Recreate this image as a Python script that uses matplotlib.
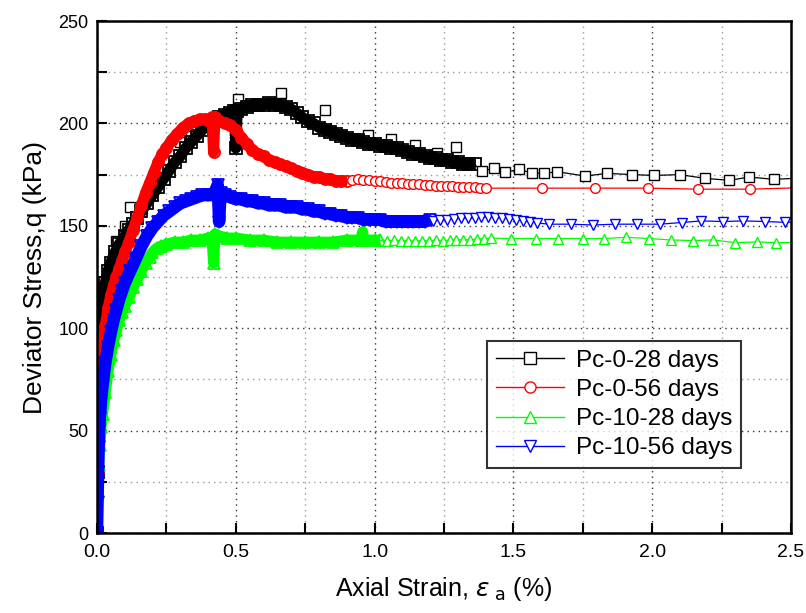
import matplotlib
matplotlib.use("Agg")
import matplotlib.pyplot as plt
from matplotlib.ticker import MultipleLocator

plt.rcParams['font.family'] = ['Liberation Sans', 'DejaVu Sans']
plt.rcParams['mathtext.fontset'] = 'dejavusans'

labels = ['Pc-0-28 days', 'Pc-0-56 days', 'Pc-10-28 days', 'Pc-10-56 days']
colors = ['#000000', '#ff0000', '#00ff00', '#0000ff']
markers = ['s', 'o', '^', 'v']

# Pc-0-28 days
black_dense_x = [0.000, 0.002, 0.004, 0.006, 0.008, 0.010, 0.013, 0.016, 0.020, 0.025,
                 0.030, 0.040, 0.050, 0.065, 0.080, 0.100, 0.115, 0.130, 0.145, 0.160,
                 0.180, 0.200, 0.220, 0.240, 0.260, 0.280, 0.300, 0.320, 0.340, 0.360,
                 0.380, 0.400, 0.420, 0.440, 0.460, 0.480, 0.495, 0.500, 0.505, 0.520,
                 0.540, 0.560, 0.580, 0.600, 0.620, 0.640, 0.660, 0.680, 0.700, 0.720,
                 0.740, 0.760, 0.780, 0.800, 0.820, 0.840, 0.860, 0.880, 0.900, 0.920,
                 0.940, 0.960, 0.980, 1.000, 1.020, 1.040, 1.060, 1.080, 1.100, 1.120,
                 1.140, 1.160, 1.180, 1.200, 1.220, 1.240, 1.260, 1.280, 1.300, 1.320,
                 1.340, 1.360]
black_dense_y = [0, 30, 55, 72, 85, 93, 102, 108, 113, 118,
                 122, 128, 132, 137, 141, 145, 148, 151, 154, 157,
                 161, 165, 169, 173, 177, 181, 184, 188, 191, 194,
                 197, 199, 201, 203, 204, 205, 206, 188, 206, 207,
                 208, 209, 209, 209, 210, 209, 209, 208, 207, 205,
                 203, 201, 200, 198, 197, 196, 195, 194, 193, 192,
                 192, 191, 190, 190, 189, 189, 188, 188, 187, 186,
                 185, 185, 184, 183, 183, 182, 182, 181, 181, 180,
                 180, 180]
black_out_x = [0.070, 0.100, 0.118, 0.298, 0.340, 0.507, 0.664, 0.820, 0.975, 1.060,
               1.144, 1.224, 1.292]
black_out_y = [142.6, 150.0, 159.0, 190.8, 194.0, 211.9, 214.7, 206.5, 194.4, 192.3,
               189.5, 185.5, 188.7]
black_sparse_x = [1.386, 1.430, 1.470, 1.520, 1.566, 1.611, 1.658, 1.759, 1.837, 1.928,
                  2.008, 2.099, 2.189, 2.278, 2.349, 2.439, 2.530]
black_sparse_y = [176.6, 178.2, 176.1, 177.6, 175.8, 175.6, 176.4, 174.3, 175.6, 175.0,
                  174.6, 175.0, 173.2, 172.2, 173.8, 172.7, 173.3]

# Pc-0-56 days
red_dense_x = [0.000, 0.003, 0.006, 0.010, 0.015, 0.020, 0.030, 0.040, 0.050, 0.060,
               0.070, 0.080, 0.090, 0.100, 0.115, 0.130, 0.145, 0.160, 0.175, 0.190,
               0.205, 0.220, 0.235, 0.250, 0.270, 0.290, 0.310, 0.330, 0.350, 0.370,
               0.390, 0.405, 0.415, 0.420, 0.425, 0.440, 0.460, 0.480, 0.500, 0.520,
               0.540, 0.560, 0.580, 0.600, 0.620, 0.640, 0.660, 0.680, 0.700, 0.720,
               0.740, 0.760, 0.780, 0.800, 0.820, 0.840, 0.860, 0.880, 0.900]
red_dense_y = [0, 30, 55, 68, 80, 89, 101, 110, 116, 121,
               125, 129, 133, 137, 142, 148, 154, 160, 166, 171,
               176, 181, 185, 188, 192, 195, 198, 200, 201, 202,
               202, 201, 203, 186, 203, 201, 200, 199, 197, 193,
               190, 187, 185, 184, 182, 181, 180, 179, 178, 177,
               176, 175, 174, 174, 173, 173, 172, 172, 172]
red_sparse_x = [0.92, 0.94, 0.96, 0.98, 1.00, 1.02, 1.04, 1.06, 1.08, 1.10,
                1.12, 1.14, 1.16, 1.18, 1.20, 1.22, 1.24, 1.26, 1.28, 1.30,
                1.32, 1.34, 1.36, 1.38, 1.40, 1.604, 1.794, 1.985, 2.164, 2.354,
                2.530]
red_sparse_y = [172.5, 172.8, 172.6, 172.2, 172.0, 171.8, 171.5, 171.0, 170.8, 170.9,
                170.6, 170.4, 170.2, 170.0, 169.8, 169.6, 169.4, 169.3, 169.2, 169.0,
                169.0, 168.8, 168.8, 168.6, 168.4, 168.4, 168.4, 168.4, 167.9, 167.9,
                168.6]

# Pc-10-28 days
green_dense_x = [0.000, 0.003, 0.006, 0.010, 0.015, 0.020, 0.030, 0.040, 0.050, 0.060,
                 0.070, 0.080, 0.090, 0.100, 0.115, 0.130, 0.145, 0.160, 0.175, 0.190,
                 0.200, 0.215, 0.230, 0.250, 0.280, 0.310, 0.340, 0.370, 0.400, 0.415,
                 0.420, 0.425, 0.440, 0.470, 0.500, 0.550, 0.600, 0.650, 0.700, 0.750,
                 0.800, 0.850, 0.900, 0.950, 0.957, 0.960, 1.000, 1.020]
green_dense_y = [0, 20, 33, 43, 52, 58, 69, 79, 87, 94,
                 99, 104, 108, 111, 115, 120, 124, 128, 132, 135,
                 137, 139, 140, 141, 142, 142, 143, 143, 144, 144,
                 132, 146, 145, 144, 144, 143, 143, 142, 142, 142,
                 142, 142, 143, 143, 147, 143, 143, 143]
green_sparse_x = [1.045, 1.070, 1.095, 1.120, 1.145, 1.170, 1.195, 1.220, 1.245, 1.270,
                  1.295, 1.320, 1.345, 1.370, 1.395, 1.420, 1.491, 1.581, 1.659, 1.749,
                  1.828, 1.907, 1.987, 2.066, 2.147, 2.219, 2.298, 2.376, 2.447, 2.530]
green_sparse_y = [142.8, 142.9, 142.7, 142.8, 142.6, 142.8, 142.7, 142.9, 142.8, 143.0,
                  143.1, 143.2, 143.3, 143.5, 143.8, 144.0, 143.8, 143.8, 143.8, 143.8,
                  143.8, 144.4, 143.8, 143.1, 142.8, 143.1, 141.8, 142.1, 141.8, 141.9]

# Pc-10-56 days
blue_dense_x = [0.000, 0.002, 0.004, 0.006, 0.008, 0.010, 0.015, 0.020, 0.030, 0.040,
                0.050, 0.060, 0.070, 0.080, 0.090, 0.100, 0.120, 0.140, 0.160, 0.180,
                0.200, 0.220, 0.240, 0.260, 0.280, 0.300, 0.320, 0.340, 0.360, 0.380,
                0.400, 0.420, 0.435, 0.440, 0.445, 0.460, 0.480, 0.500, 0.520, 0.540,
                0.560, 0.580, 0.600, 0.620, 0.640, 0.660, 0.680, 0.700, 0.720, 0.740,
                0.760, 0.780, 0.800, 0.820, 0.840, 0.860, 0.880, 0.900, 0.920, 0.940,
                0.960, 0.980, 1.000, 1.020, 1.040, 1.060, 1.080, 1.100, 1.120, 1.140,
                1.160, 1.180, 1.200]
blue_dense_y = [0, 15, 30, 42, 50, 56, 65, 72, 83, 91,
                98, 104, 109, 114, 118, 122, 128, 134, 140, 145,
                149, 152, 155, 157, 159, 161, 162, 163, 164, 165,
                165, 165, 170, 152, 166, 165, 164, 163, 163, 162,
                162, 161, 161, 160, 160, 160, 159, 159, 159, 158,
                158, 157, 157, 156, 156, 155, 155, 154, 154, 154,
                153, 153, 153, 153, 152, 152, 152, 152, 152, 152,
                152, 152, 153]
blue_sparse_x = [1.210, 1.235, 1.260, 1.285, 1.310, 1.335, 1.360, 1.385, 1.410, 1.435,
                 1.460, 1.485, 1.510, 1.535, 1.560, 1.585, 1.628, 1.706, 1.787, 1.867,
                 1.945, 2.027, 2.106, 2.177, 2.256, 2.327, 2.407, 2.477, 2.530]
blue_sparse_y = [152.5, 152.6, 153.0, 153.3, 153.6, 153.8, 154.0, 154.2, 154.2, 154.0,
                 153.8, 153.5, 153.0, 152.5, 152.0, 151.4, 150.8, 150.8, 150.4, 150.8,
                 150.8, 150.8, 151.6, 152.4, 152.1, 152.4, 152.1, 151.7, 151.8]

dense_x = [black_dense_x, red_dense_x, green_dense_x, blue_dense_x]
dense_y = [black_dense_y, red_dense_y, green_dense_y, blue_dense_y]
sparse_x = [black_sparse_x, red_sparse_x, green_sparse_x, blue_sparse_x]
sparse_y = [black_sparse_y, red_sparse_y, green_sparse_y, blue_sparse_y]
band_lw = [8, 8, 8, 9]

fig = plt.figure(figsize=(8.06, 6.13), dpi=100)
ax = fig.add_axes([0.1203, 0.1305, 0.8611, 0.8352])

for i in range(4):
    c = colors[i]
    m = markers[i]
    # dense part: thick band of overlapping markers
    ax.plot(dense_x[i], dense_y[i], '-', color=c, lw=band_lw[i], solid_capstyle='butt',
            zorder=2 + i)
    ax.plot(dense_x[i], dense_y[i], linestyle='none', marker=m, ms=8, mfc='none', mec=c,
            mew=1.3, zorder=2 + i)
    if i == 0:
        ax.plot(black_out_x, black_out_y, linestyle='none', marker='s', ms=7, mfc='none',
                mec=c, mew=1.0, zorder=2)
    ax.plot([dense_x[i][-1]] + sparse_x[i], [dense_y[i][-1]] + sparse_y[i], '-', color=c,
            lw=0.9, zorder=2 + i)
    ax.plot(sparse_x[i], sparse_y[i], linestyle='none', marker=m, ms=7, mfc='white', mec=c,
            mew=1.0, zorder=2 + i)
    # legend proxy
    ax.plot([], [], '-', color=c, lw=1.0, marker=m, ms=8, mfc='white', mec=c, mew=1.0,
            label=labels[i])

ax.set_xlim(0, 2.5)
ax.set_ylim(0, 250)
ax.xaxis.set_major_locator(MultipleLocator(0.5))
ax.xaxis.set_minor_locator(MultipleLocator(0.25))
ax.yaxis.set_major_locator(MultipleLocator(50))
ax.yaxis.set_minor_locator(MultipleLocator(25))
ax.tick_params(which='both', direction='in', length=7, width=1.5)
ax.tick_params(axis='y', labelsize=13, pad=6)
ax.tick_params(axis='x', labelsize=14, pad=8)
ax.xaxis.set_major_formatter(matplotlib.ticker.FormatStrFormatter('%.1f'))

ax.grid(True, which='major', linestyle=(0, (1, 3)), color='#333333', lw=1.0)
ax.grid(True, which='minor', linestyle=(0, (1, 3)), color='#999999', lw=1.0)
ax.set_axisbelow(True)
for s in ax.spines.values():
    s.set_linewidth(1.8)
    s.set_zorder(10)

ax.set_ylabel('Deviator Stress,q (kPa)', fontsize=19, labelpad=8)
ax.set_xlabel('Axial Strain, $\\varepsilon_{\\ \\rm a}$ (%)', fontsize=18, labelpad=10)

leg = ax.legend(loc='upper left', bbox_to_anchor=(0.562, 0.375), fontsize=17.5,
                frameon=True, fancybox=False, edgecolor='black', handlelength=2.8,
                labelspacing=0.3, borderpad=0.35, handletextpad=0.5, borderaxespad=0)
leg.get_frame().set_linewidth(1.5)
leg.set_zorder(20)

fig.savefig('out.png', dpi=100)
